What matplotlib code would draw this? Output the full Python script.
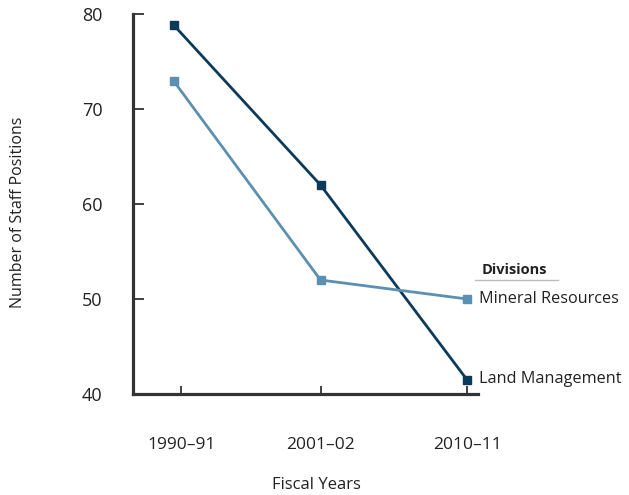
import matplotlib
matplotlib.use("Agg")
import matplotlib.pyplot as plt

categories = ["1990\u201391", "2001\u201302", "2010\u201311"]
land_management = [78.8, 62.0, 41.5]
mineral_resources = [72.9, 52.0, 50.0]
yticks = [40, 50, 60, 70, 80]

plt.rcParams['font.family'] = ['Open Sans', 'DejaVu Sans']

W, H = 629, 495
fig = plt.figure(figsize=(W / 100, H / 100), dpi=100)
ax = fig.add_axes([133 / W, 1 - 394 / H, (478 - 133) / W, (394 - 14) / H])

c_lm = "#0c3a5b"
c_mr = "#5b90b2"
x = list(range(len(categories)))
ax.plot(x, land_management, color=c_lm, lw=2.0, marker='s', ms=5.8, clip_on=False, zorder=3)
ax.plot(x, mineral_resources, color=c_mr, lw=2.0, marker='s', ms=5.8, clip_on=False, zorder=3)

ax.set_xlim(-0.28, 2.075)
ax.set_ylim(40, 80)
ax.set_yticks(yticks)
ax.set_xticks([0.05, 1, 2])
ax.set_xticklabels(categories)

for s in ['top', 'right']:
    ax.spines[s].set_visible(False)
for s in ['left', 'bottom']:
    ax.spines[s].set_color('#333333')
    ax.spines[s].set_linewidth(2.3)

ax.tick_params(axis='y', direction='in', length=8, width=1.3, colors='#333333',
               labelcolor='#222222', labelsize=13, pad=22)
ax.tick_params(axis='x', direction='in', length=6, width=1.3, colors='#333333',
               labelcolor='#222222', labelsize=12.5, pad=31)

fig.text(18 / W, 1 - 212 / H, "Number of Staff Positions", rotation=90,
         ha='center', va='center', fontsize=11.5, color='#222222')
fig.text(316 / W, 1 - 485 / H, "Fiscal Years", ha='center', va='center',
         fontsize=12, color='#222222')

# direct labels
fig.text(479 / W, 1 - 299 / H, "Mineral Resources", ha='left', va='center',
         fontsize=11.7, color='#222222')
fig.text(479 / W, 1 - 379 / H, "Land Management", ha='left', va='center',
         fontsize=11.7, color='#222222')
fig.text(482 / W, 1 - 270 / H, "Divisions", ha='left', va='center',
         fontsize=10.5, fontweight='bold', color='#222222')
fig.add_artist(plt.Line2D([475 / W, 558 / W], [1 - 280 / H, 1 - 280 / H],
                          color='#bbbbbb', lw=1, transform=fig.transFigure))

fig.savefig("out.png", dpi=100)
